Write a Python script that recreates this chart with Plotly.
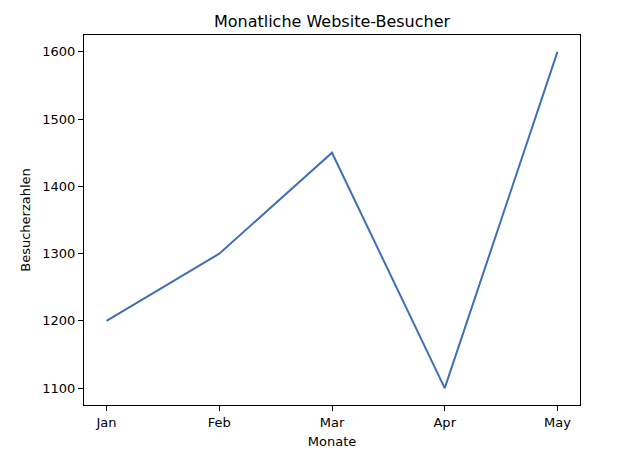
import plotly.graph_objects as go

monate = ["Jan", "Feb", "Mar", "Apr", "May"]
besucher = [1200, 1300, 1450, 1100, 1600]
y_ticks = [1100, 1200, 1300, 1400, 1500, 1600]

fig = go.Figure()
fig.add_trace(go.Scatter(x=list(range(len(monate))), y=besucher, mode="lines",
                         line=dict(color="#3f70b5", width=2)))

axis_style = dict(showgrid=False, zeroline=False, showline=True, mirror=True,
                  linecolor="black", linewidth=1, ticks="outside", ticklen=5,
                  tickcolor="black", tickfont=dict(size=13, color="black"))

fig.update_xaxes(range=[-0.2, 4.2], tickvals=list(range(len(monate))), ticktext=monate,
                 title=dict(text="Monate", font=dict(size=13, color="black"), standoff=8),
                 **axis_style)
fig.update_yaxes(range=[1075, 1625], tickvals=y_ticks,
                 title=dict(text="Besucherzahlen", font=dict(size=13, color="black"), standoff=8),
                 **axis_style)

# page is offset by the browser's body margin, so shift the plot up/left
fig.update_layout(
    width=623, height=461,
    margin=dict(l=76, r=51, t=27, b=64),
    plot_bgcolor="white", paper_bgcolor="white",
    font=dict(family="DejaVu Sans"),
    title=dict(text="Monatliche Website-Besucher", x=(76 + 496 / 2) / 623, xanchor="center",
               y=1 - 13 / 461, yanchor="middle", font=dict(size=16, color="black")),
    showlegend=False,
)

fig.write_html("out.html")
